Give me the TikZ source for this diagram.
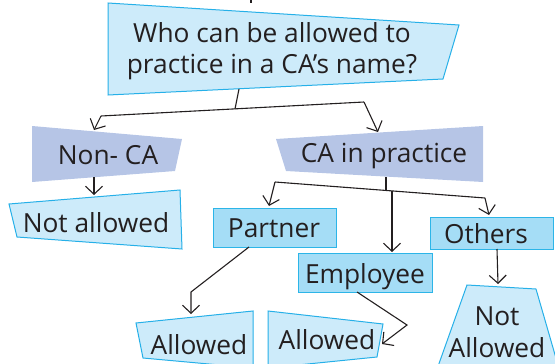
\documentclass[tikz,border=0pt]{standalone}
\usepackage{fontspec}
\setmainfont{Open Sans}
\usetikzlibrary{arrows.meta}
\definecolor{ink}{HTML}{231F20}
\definecolor{palefill}{HTML}{CDEBFA}
\definecolor{paleline}{HTML}{26B0E8}
\definecolor{lavfill}{HTML}{B6C5E6}
\definecolor{midfill}{HTML}{A5DDF6}
\definecolor{midline}{HTML}{2CB5E8}
\tikzset{
  x=1pt, y=-1pt,
  pale/.style={fill=palefill, draw=paleline, line width=1pt, line join=miter},
  lav/.style={fill=lavfill},
  mid/.style={fill=midfill, draw=midline, line width=1pt},
  label/.style={text=ink, font=\fontsize{26.3}{31}\selectfont, inner sep=0pt, anchor=base},
  link/.style={draw=ink, line width=1.1pt, line join=miter},
  arr/.style={link, -{Straight Barb[length=8pt,width=17pt,line width=1.1pt]}},
}
\begin{document}
\begin{tikzpicture}
\useasboundingbox (0,0) rectangle (555,364);
\begin{scope}
\clip (0,0) rectangle (555,364);

% stroke reaching in from above the frame
\draw[ink, line width=2pt] (251,-2) -- (251,3);

% box outlines
\path[pale] (108,3) -- (459,25) -- (443,79) -- (108,95) -- cycle;
\path[lav] (32,126) -- (182,139) -- (175,171) -- (32,182) -- cycle;
\path[pale] (9,204) -- (180,190) -- (182,249) -- (17,237) -- cycle;
\path[lav] (276,139) -- (483,126) -- (483,182) -- (286,171) -- cycle;
\path[mid] (213,208) rectangle (336,247);
\path[mid] (298,253) rectangle (432,292);
\path[mid] (430,217) rectangle (553,249);
\path[pale] (136,323) -- (253,311) -- (253,368) -- (143,358) -- cycle;
\path[pale] (268,311) -- (383,324) -- (377,357) -- (268,368) -- cycle;
\path[pale] (467,285) -- (536,289) -- (560,372) -- (436,372) -- cycle;

% labels (multi-line labels sit on the baseline of their last line)
\node[label, align=center] (question) at (272,73) {Who can be allowed to\\practice in a CA’s name?};
\node[label] (nonca) at (108,164) {Non- CA};
\node[label] (notallowed) at (96,232) {Not allowed};
\node[label] (inpractice) at (384,162) {CA in practice};
\node[label] (partner) at (274,237) {Partner};
\node[label] (employee) at (365,283) {Employee};
\node[label] (others) at (486,243) {Others};
\node[label] (allowedA) at (199,354) {Allowed};
\node[label] (allowedB) at (327,349) {Allowed};
\node[label, align=center, font=\fontsize{26.3}{32}\selectfont] (notallowedB) at (497,357) {Not\\Allowed};

% joints and arrow tips
\coordinate (qfoot) at (239,89);
\coordinate (qjoin) at (235,109);
\coordinate (qleft) at (101,116);
\coordinate (qright) at (364,102);
\coordinate (toNonCA) at (94,130);
\coordinate (toCA) at (378,132);
\coordinate (ncfoot) at (94,177);
\coordinate (toNotAllowed) at (94,195);
\coordinate (cafoot) at (386,177);
\coordinate (cajoin) at (386,190);
\coordinate (caleft) at (275,182);
\coordinate (caright) at (485,198);
\coordinate (camid) at (392,191);
\coordinate (toPartner) at (269,206);
\coordinate (toEmployee) at (392,252);
\coordinate (toOthers) at (489,215);
\coordinate (pfoot) at (249,247);
\coordinate (pbend) at (191,292);
\coordinate (toAllowedA) at (191,314);
\coordinate (efoot) at (357,292);
\coordinate (ebend) at (407,325);
\coordinate (toAllowedB) at (382,344);
\coordinate (ofoot) at (497,249);
\coordinate (toNotAllowedB) at (498,284);

% connectors
\draw[link] (qfoot) -- (qjoin);
\draw[link] (qright) -- (qleft);
\draw[arr] (qleft) -- (toNonCA);
\draw[arr] (qright) -- (toCA);
\draw[arr] (ncfoot) -- (toNotAllowed);
\draw[link] (cafoot) -- (cajoin);
\draw[link] (caleft) -- (caright);
\draw[arr] (caleft) -- (toPartner);
\draw[arr] (caright) -- (toOthers);
\draw[arr] (camid) -- (toEmployee);
\draw[arr] (pfoot) -- (pbend) -- (toAllowedA);
\draw[arr] (efoot) -- (ebend) -- (toAllowedB);
\draw[arr] (ofoot) -- (toNotAllowedB);
\end{scope}
\end{tikzpicture}
\end{document}
